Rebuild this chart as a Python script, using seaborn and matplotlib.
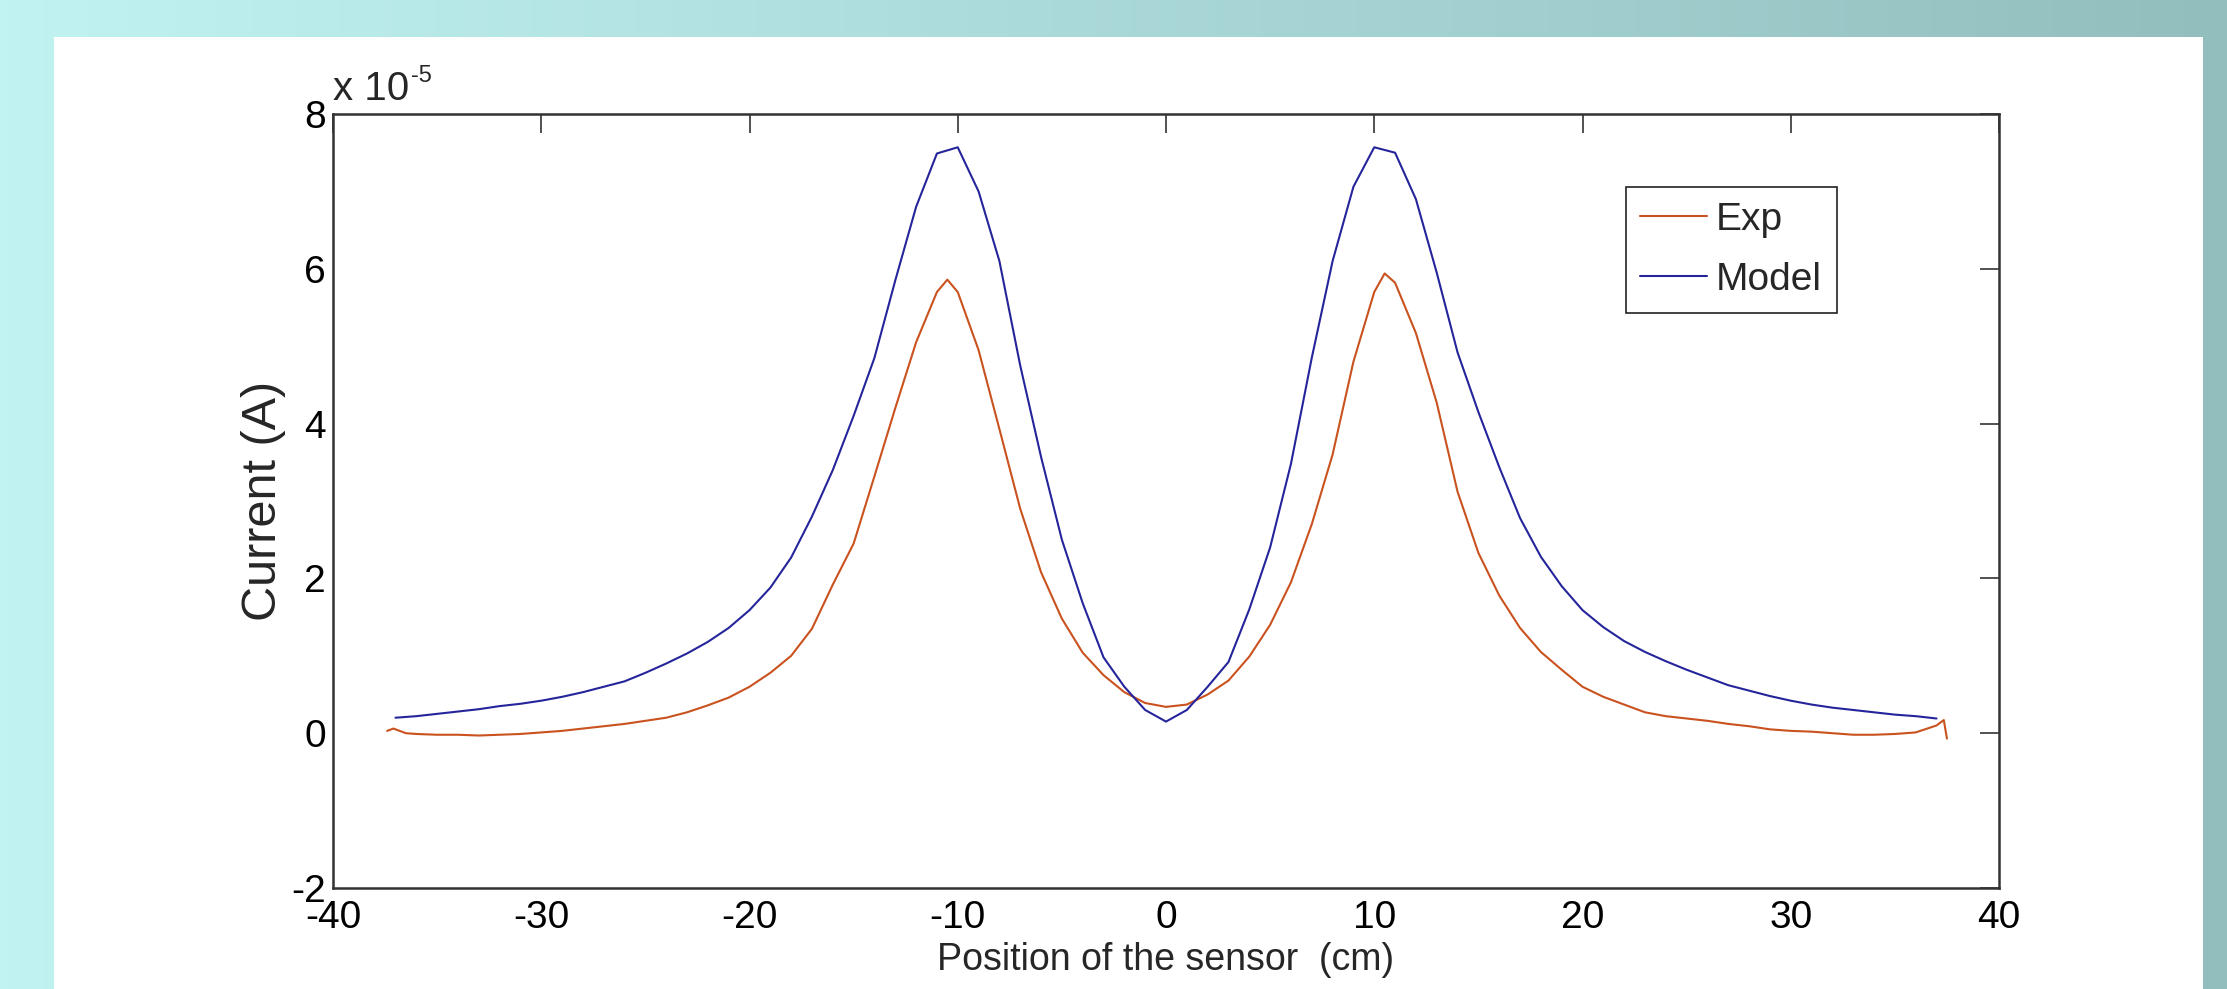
import numpy as np
import pandas as pd
import matplotlib
matplotlib.use('Agg')
import matplotlib.pyplot as plt
import seaborn as sns

# ── データ（センサ位置 cm / 電流 ×1e-5 A） ─────────────────────
model_x = [-37, -36, -35, -34, -33, -32, -31, -30, -29, -28, -27, -26, -25,
           -24, -23, -22, -21, -20, -19, -18, -17, -16, -15, -14, -13, -12,
           -11, -10, -9, -8, -7, -6, -5, -4, -3, -2, -1, 0, 1, 2, 3, 4, 5,
           6, 7, 8, 9, 10, 11, 12, 13, 14, 15, 16, 17, 18, 19, 20, 21, 22,
           23, 24, 25, 26, 27, 28, 29, 30, 31, 32, 33, 34, 35, 36, 37]
model_y = [0.20, 0.22, 0.25, 0.28, 0.31, 0.35, 0.38, 0.42, 0.47, 0.53, 0.60,
           0.67, 0.78, 0.90, 1.03, 1.18, 1.36, 1.59, 1.88, 2.27, 2.80, 3.40,
           4.10, 4.85, 5.85, 6.80, 7.49, 7.57, 7.00, 6.10, 4.75, 3.57, 2.50,
           1.68, 0.98, 0.60, 0.30, 0.15, 0.30, 0.60, 0.92, 1.60, 2.40, 3.48,
           4.85, 6.10, 7.06, 7.57, 7.50, 6.90, 5.95, 4.92, 4.15, 3.44, 2.78,
           2.28, 1.90, 1.59, 1.37, 1.19, 1.05, 0.93, 0.82, 0.72, 0.62, 0.55,
           0.48, 0.42, 0.37, 0.33, 0.30, 0.27, 0.24, 0.22, 0.19]

exp_x = [-37.4, -37.1, -36.5, -36, -35, -34, -33, -32, -31, -30, -29, -28,
         -27, -26, -25, -24, -23, -22, -21, -20, -19, -18, -17, -16, -15,
         -14, -13, -12, -11, -10.5, -10, -9, -8, -7, -6, -5, -4, -3, -2, -1,
         0, 1, 2, 3, 4, 5, 6, 7, 8, 9, 10, 10.5, 11, 12, 13, 14, 15, 16, 17,
         18, 19, 20, 21, 22, 23, 24, 25, 26, 27, 28, 29, 30, 31, 32, 33, 34,
         35, 36, 37, 37.35, 37.5]
exp_y = [0.03, 0.06, 0.00, -0.01, -0.02, -0.02, -0.03, -0.02, -0.01, 0.01,
         0.03, 0.06, 0.09, 0.12, 0.16, 0.20, 0.27, 0.36, 0.46, 0.60, 0.78,
         1.00, 1.35, 1.92, 2.45, 3.32, 4.20, 5.05, 5.70, 5.86, 5.70, 4.95,
         3.93, 2.90, 2.08, 1.48, 1.04, 0.75, 0.53, 0.39, 0.34, 0.37, 0.50,
         0.68, 0.99, 1.40, 1.95, 2.70, 3.60, 4.80, 5.70, 5.94, 5.82, 5.17,
         4.27, 3.12, 2.33, 1.78, 1.36, 1.05, 0.82, 0.60, 0.47, 0.37, 0.27,
         0.22, 0.19, 0.16, 0.12, 0.09, 0.05, 0.03, 0.02, 0.00, -0.02, -0.02,
         -0.01, 0.01, 0.10, 0.17, -0.07]

x_ticks = [-40, -30, -20, -10, 0, 10, 20, 30, 40]
y_ticks = [-2, 0, 2, 4, 6, 8]

EXP_COLOR = '#c9521f'
MODEL_COLOR = '#25259b'

df_exp = pd.DataFrame({'pos': exp_x, 'cur': exp_y})
df_model = pd.DataFrame({'pos': model_x, 'cur': model_y})

# ── スタイル ──────────────────────────────────────────────────
sns.set_style('white')
plt.rcParams['font.family'] = ['Liberation Sans', 'DejaVu Sans']
plt.rcParams['axes.unicode_minus'] = False

W, H = 2227, 989
fig = plt.figure(figsize=(W / 100, H / 100), dpi=100)

# 背景（スライド風グラデーション + 白パネル）
bg = fig.add_axes([0, 0, 1, 1], zorder=-10)
grad = np.linspace(0, 1, 256)
c0 = np.array([193, 243, 243]) / 255
c1 = np.array([147, 190, 190]) / 255
img = (c0[None, :] * (1 - grad[:, None]) + c1[None, :] * grad[:, None])[None, :, :]
bg.imshow(img, aspect='auto', extent=[0, 1, 0, 1])
bg.add_patch(plt.Rectangle((54 / W, 0), (2203 - 54) / W, 1 - 37 / H,
                           facecolor='white', edgecolor='none'))
bg.set_xlim(0, 1)
bg.set_ylim(0, 1)
bg.axis('off')

ax = fig.add_axes([333 / W, 1 - 888 / H, (1999 - 333) / W, (888 - 114) / H])
ax.set_facecolor('white')

sns.lineplot(data=df_exp, x='pos', y='cur', ax=ax, color=EXP_COLOR,
             linewidth=1.5, label='Exp', estimator=None)
sns.lineplot(data=df_model, x='pos', y='cur', ax=ax, color=MODEL_COLOR,
             linewidth=1.5, label='Model', estimator=None)

ax.set_xlim(-40, 40)
ax.set_ylim(-2, 8)
ax.set_xticks(x_ticks)
ax.set_yticks(y_ticks)
ax.set_xticklabels([str(t) for t in x_ticks], fontsize=28)
ax.set_yticklabels([str(t) for t in y_ticks], fontsize=28)
ax.tick_params(direction='in', length=14, width=1.1, top=True, right=True,
               colors='#222222', labelcolor='black')
ax.tick_params(axis='x', pad=9)
ax.tick_params(axis='y', pad=5)
for s in ax.spines.values():
    s.set_color('#333333')
    s.set_linewidth(1.8)

ax.set_xlabel('Position of the sensor  (cm)', fontsize=27, labelpad=4)
ax.set_ylabel('Current (A)', fontsize=35, labelpad=4)

# 指数表記
t10 = fig.text(333 / W, 1 - 100 / H, 'x 10', fontsize=29,
               va='baseline', ha='left')
ax.annotate('-5', xy=(1, 0.55), xycoords=t10, xytext=(1, 0),
            textcoords='offset points', fontsize=17, va='bottom', ha='left')

leg = ax.legend(loc='upper right',
                bbox_to_anchor=((1837 - 333) / 1666, (888 - 187) / 774),
                borderaxespad=0, fontsize=28, frameon=True, fancybox=False,
                handlelength=1.7, handletextpad=0.25, borderpad=0.38,
                labelspacing=0.62)
leg.get_frame().set_edgecolor('#222222')
leg.get_frame().set_linewidth(1.2)
leg.get_frame().set_alpha(1)

fig.savefig('out.png', dpi=100)
